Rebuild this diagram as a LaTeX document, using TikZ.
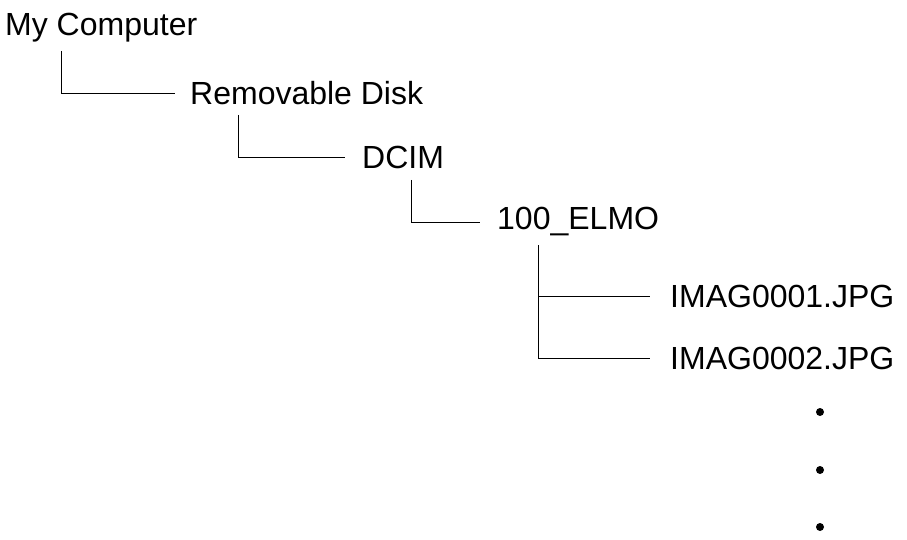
\documentclass[tikz,border=0pt]{standalone}
\usepackage{fontspec}
\setmainfont{Liberation Sans}
\usetikzlibrary{calc}
\begin{document}
\begin{tikzpicture}[x=1pt,y=-1pt,
  lbl/.style={anchor=west,inner sep=0pt,font=\fontsize{32}{36}\selectfont},
  ln/.style={line width=0.9pt},
  dot/.style={circle,fill=black,inner sep=0pt,minimum size=8pt}]
\useasboundingbox (0,0) rectangle (907,540);
\node[lbl] (a) at (5,28) {My Computer};
\node[lbl] (b) at (190,93) {Removable Disk};
\node[lbl] (c) at (362,157) {DCIM};
\node[lbl] (d) at (497,222) {100\_ELMO};
\node[lbl] (e) at (670,296) {IMAG0001.JPG};
\node[lbl] (f) at (670,358) {IMAG0002.JPG};
\node[dot] (g1) at (820,412) {};
\node[dot] (g2) at (820,470) {};
\node[dot] (g3) at (820,527) {};
\draw[ln] ($(a.west)+(56,23)$) |- ($(b.west)+(-15,0)$);
\draw[ln] ($(b.west)+(48,22)$) |- ($(c.west)+(-17,0)$);
\draw[ln] ($(c.west)+(49,23)$) |- ($(d.west)+(-17,0)$);
\draw[ln] ($(d.west)+(41,23)$) |- ($(f.west)+(-20,0)$);
\draw[ln] ($(d.west)+(41,74)$) -- ($(e.west)+(-20,0)$);
\end{tikzpicture}
\end{document}
